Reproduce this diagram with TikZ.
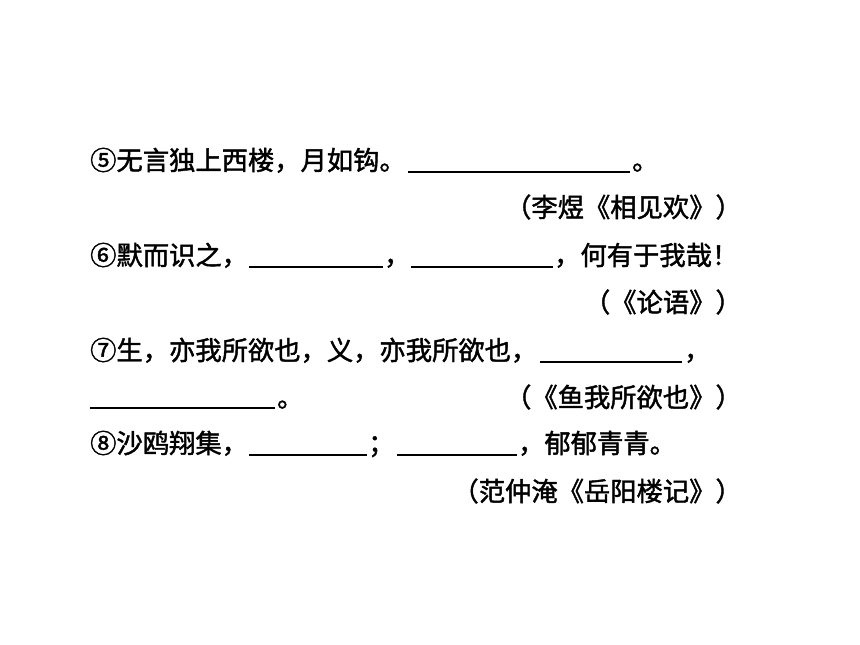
\documentclass[tikz,border=0pt]{standalone}
\usepackage{fontspec}
\newfontfamily\cjk[FakeBold=1.6]{Noto Sans CJK SC}
\usetikzlibrary{positioning}
\tikzset{
  txt/.style={font=\cjk\fontsize{26.3}{26.3}\selectfont, inner sep=0pt, anchor=base west},
  src/.style={txt, anchor=base east},
  blank/.style={line width=1.5pt}
}

\begin{document}
\begin{tikzpicture}[x=1pt, y=-1pt]
    \useasboundingbox (0,0) rectangle (860,645);
    % line 5
    \node[txt] (q5) at (90,170) {⑤无言独上西楼，月如钩。};
    \coordinate (b1s) at (408,172); \coordinate (b1e) at (630,172);
    \draw[blank] (b1s) -- (b1e);
    \node[txt] (q5e) at (632,170) {。};
    % line 6
    \node[txt] (q6) at (90,265) {⑥默而识之，};
    \coordinate (b2s) at (249,267); \coordinate (b2e) at (383,267);
    \coordinate (b3s) at (411,267); \coordinate (b3e) at (553,267);
    \draw[blank] (b2s) -- (b2e);
    \node[txt] (q6m) at (384,265) {，};
    \draw[blank] (b3s) -- (b3e);
    \node[txt] (q6e) at (554,265) {，何有于我哉！};
    % line 7
    \node[txt] (q7) at (90,360) {⑦生，亦我所欲也，义，亦我所欲也，};
    \coordinate (b4s) at (540,362); \coordinate (b4e) at (682,362);
    \draw[blank] (b4s) -- (b4e);
    \node[txt] (q7m) at (684,360) {，};
    \coordinate (b5s) at (90,408); \coordinate (b5e) at (275,408);
    \draw[blank] (b5s) -- (b5e);
    \node[txt] (q7e) at (277,407) {。};
    % line 8
    \node[txt] (q8) at (90,453) {⑧沙鸥翔集，};
    \coordinate (b6s) at (249,455); \coordinate (b6e) at (367,455);
    \coordinate (b7s) at (397,455); \coordinate (b7e) at (517,455);
    \draw[blank] (b6s) -- (b6e);
    \node[txt] (q8m) at (368,453) {；};
    \draw[blank] (b7s) -- (b7e);
    \node[txt] (q8e) at (518,453) {，郁郁青青。};
    % sources
    \foreach \t/\y [count=\i] in {（李煜《相见欢》）/217, （《论语》）/312, （《鱼我所欲也》）/407, （范仲淹《岳阳楼记》）/501} {
        \node[src] (src\i) at (742,\y) {\t};
    }
\end{tikzpicture}
\end{document}
